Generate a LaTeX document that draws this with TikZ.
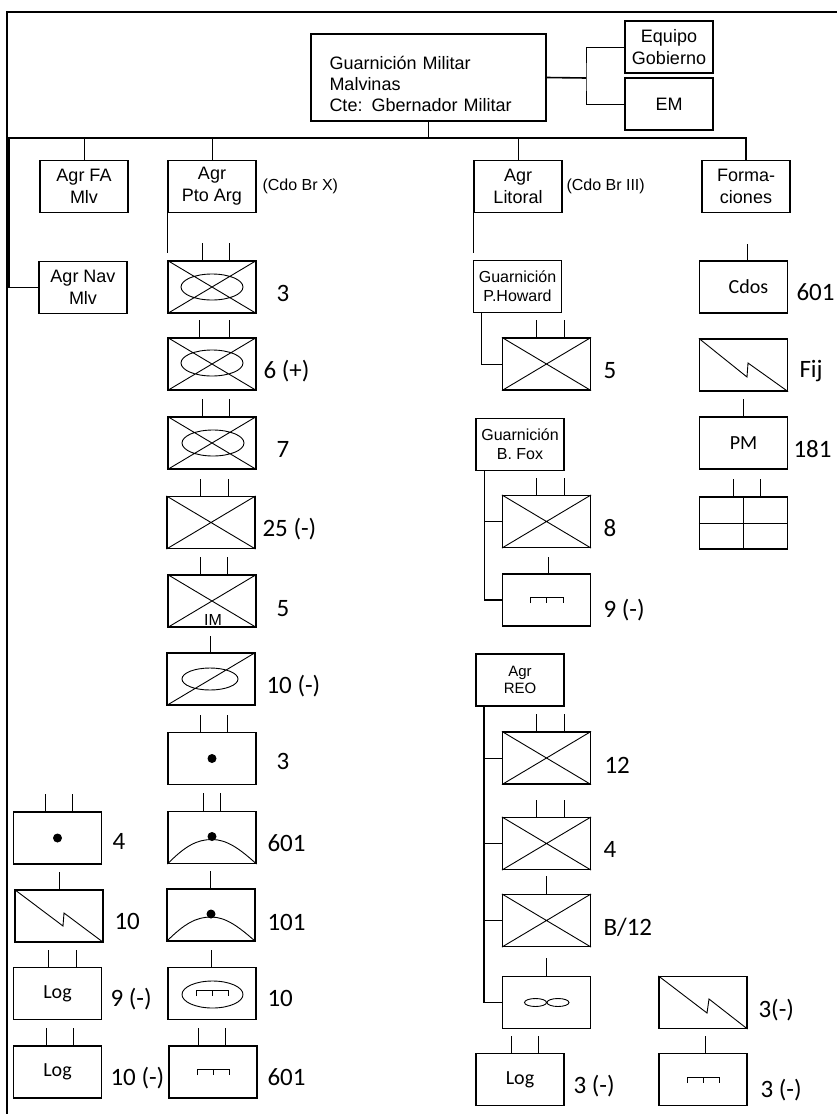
\documentclass[tikz,border=0pt]{standalone}
\usepackage{fontspec}
\setmainfont{Liberation Sans}
\newfontfamily\calibri{Carlito}

\begin{document}
\begin{tikzpicture}[x=1pt, y=-1pt, line width=1pt]
        \tikzstyle{ubox} = [rectangle, draw, line width=1.1pt, minimum width=88pt, minimum height=52pt, inner sep=0pt, align=center]
        \tikzstyle{hbox} = [ubox, font=\fontsize{18}{22}\selectfont]
        \tikzstyle{gbox} = [ubox, font=\fontsize{16}{19}\selectfont]
        \tikzstyle{ctext} = [font=\calibri\fontsize{20}{24}\selectfont]
        \tikzstyle{num} = [anchor=base west, inner sep=0pt, font=\calibri\fontsize{25}{30}\selectfont]
        \tikzstyle{sym} = [line width=0.9pt]
        \tikzstyle{link} = [line width=1.6pt]

        \useasboundingbox (0,0) rectangle (837,1114);
        % Frame
        \draw [line width=2pt] (7,1130) -- (7,12) -- (850,12);

        % Nodes
        \node (gm) [hbox, minimum width=235pt, minimum height=87pt, text width=198pt, align=left, font=\fontsize{18}{21}\selectfont] at (428.5,77.5) {\rule{0pt}{27pt}Guarnición Militar\\Malvinas\\Cte: Gbernador Militar};
        \node (eg) [hbox] at (669,47) {Equipo\\Gobierno};
        \node (em) [hbox] at (669,104) {EM};

        \node (fa) [hbox] at (84,186.5) {Agr FA\\Mlv};
        \node (nav) [hbox] at (83,287.5) {Agr Nav\\Mlv};
        \node (pa) [hbox] at (212,186.5) {Agr\\Pto Arg};
        \node (li) [hbox] at (518,186.5) {Agr\\Litoral};
        \node (fo) [hbox] at (746,186.5) {Forma-\\ciones};
        \node (cdox) [anchor=west, inner sep=0pt, font=\fontsize{16}{19}\selectfont] at (262,186) {(Cdo Br X)};
        \node (cdoiii) [anchor=west, inner sep=0pt, font=\fontsize{16}{19}\selectfont] at (566,186) {(Cdo Br III)};

        % Agr Pto Arg
        \node (pa1) [ubox] at (212,287) {};
        \node (pa2) [ubox] at (212,364) {};
        \node (pa3) [ubox] at (212,443) {};
        \node (pa4) [ubox] at (211,522.5) {};
        \node (pa5) [ubox] at (212,601) {};
        \node (im) [anchor=base, inner sep=0pt, font=\fontsize{16}{16}\selectfont] at (213,625) {IM};
        \node (pa6) [ubox] at (211,679) {};
        \node (pa7) [ubox] at (212,758.5) {};
        \node (pa8) [ubox] at (212,837.5) {};
        \node (pa9) [ubox] at (211,915) {};
        \node (pa10) [ubox] at (212,993.5) {};
        \node (pa11) [ubox] at (213,1072) {};

        \node (l1) [ubox] at (57.5,838) {};
        \node (l2) [ubox] at (59,916) {};
        \node (l3) [ubox, ctext] at (57.5,993.5) {Log};
        \node (l4) [ubox, ctext] at (57.5,1072) {Log};

        % Agr Litoral
        \node (ph) [gbox] at (517.5,286.5) {Guarnición\\P.Howard};
        \node (li5) [ubox] at (546.5,364) {};
        \node (bf) [gbox] at (520,444.5) {Guarnición\\B. Fox};
        \node (li8) [ubox] at (546.5,521.5) {};
        \node (li9) [ubox] at (546.5,600) {};
        \node (reo) [ubox, font=\fontsize{15}{17}\selectfont] at (520,680) {Agr\\REO};
        \node (r12) [ubox] at (546.5,758) {};
        \node (r4) [ubox] at (546.5,843.5) {};
        \node (rb12) [ubox] at (546.5,920.5) {};
        \node (rav) [ubox] at (546.5,1002.5) {};
        \node (rlog) [ubox, ctext] at (520,1079.5) {Log};
        \node (rr) [ubox] at (703,1002.5) {};
        \node (rm) [ubox] at (703,1079.5) {};

        % Formaciones
        \node (cdos) [ubox, ctext] at (743.5,287) {\hspace*{10pt}Cdos};
        \node (fij) [ubox] at (743.5,365) {};
        \node (pm) [ubox, ctext] at (743.5,443) {PM};
        \node (grid) [ubox] at (743.5,523) {};

        % Numbers
        \node (pa1n) [num] at (276,301) {3};
        \node (pa2n) [num] at (263,378) {6 (+)};
        \node (pa3n) [num] at (276,457) {7};
        \node (pa4n) [num] at (262,536) {25 (-)};
        \node (pa5n) [num] at (276,616) {5};
        \node (pa6n) [num] at (266,693) {10 (-)};
        \node (pa7n) [num] at (276,769) {3};
        \node (pa8n) [num] at (267,851) {601};
        \node (pa9n) [num] at (267,930) {101};
        \node (pa10n) [num] at (267,1006) {10};
        \node (pa11n) [num] at (267,1085) {601};
        \node (l1n) [num] at (112,849) {4};
        \node (l2n) [num] at (114,929) {10};
        \node (l3n) [num] at (110,1006) {9 (-)};
        \node (l4n) [num] at (110,1085) {10 (-)};
        \node (li5n) [num] at (603,378) {5};
        \node (li8n) [num] at (603,536) {8};
        \node (li9n) [num] at (603,617) {9 (-)};
        \node (r12n) [num] at (604,773) {12};
        \node (r4n) [num] at (603,857) {4};
        \node (rb12n) [num] at (603,935) {B/12};
        \node (rlogn) [num] at (573,1093) {3 (-)};
        \node (rrn) [num] at (758,1017) {3(-)};
        \node (rmn) [num] at (760,1097) {3 (-)};
        \node (cdosn) [num] at (796,300) {601};
        \node (fijn) [num] at (799,377) {Fij};
        \node (pmn) [num] at (793,457) {181};

        % Lines
        \coordinate (gj) at (586,78);
        \coordinate (bus) at (428.5,138);
        \coordinate (busl) at (9,138);
        \draw [link] (gm.east) -- (gj);
        \draw (eg.west) -| (gj) |- (em.west);
        \draw [link] (gm.south) -- (bus);
        \draw [link] (nav.west) -| (busl) -| (fo.north);
        \draw (fa.north) -- (fa.north |- bus);
        \draw (pa.north) -- (pa.north |- bus);
        \draw (li.north) -- (li.north |- bus);
        \draw (pa.south west) -- ++(0,40);
        \draw (li.south west) -- ++(0,40);
        \draw ([xshift=3.5pt]cdos.north) -- ++(0,-16);

        \coordinate (phl) at ([xshift=9pt]ph.south west);
        \draw (phl) |- (li5.west);
        \coordinate (bfl) at ([xshift=9pt]bf.south west);
        \draw [line width=1.3pt] (bfl) |- (li9.west);
        \draw (li8.west) -- (li8.west -| bfl);
        \coordinate (reol) at ([xshift=9pt]reo.south west);
        \draw [line width=2pt] (reol) -- (reol |- rav.west);
        \draw (r12.west) -- (r12.west -| reol);
        \draw (r4.west) -- (r4.west -| reol);
        \draw (rb12.west) -- (rb12.west -| reol);
        \draw (rav.west) -- (rav.west -| reol);

        % Echelon marks
        \draw ([xshift=-10pt]pa1.north) -- ++(0,-17) ([xshift=17pt]pa1.north) -- ++(0,-17);
        \draw ([xshift=-13pt]pa2.north) -- ++(0,-17) ([xshift=17pt]pa2.north) -- ++(0,-17);
        \draw ([xshift=-10pt]pa3.north) -- ++(0,-17) ([xshift=17pt]pa3.north) -- ++(0,-17);
        \draw ([xshift=-11pt]pa4.north) -- ++(0,-17) ([xshift=17pt]pa4.north) -- ++(0,-17);
        \draw ([xshift=-12pt]pa5.north) -- ++(0,-17) ([xshift=15pt]pa5.north) -- ++(0,-17);
        \draw ([xshift=-1pt]pa6.north) -- ++(0,-16);
        \draw ([xshift=-12pt]pa7.north) -- ++(0,-17) ([xshift=15pt]pa7.north) -- ++(0,-17);
        \draw ([xshift=-9pt]pa8.north) -- ++(0,-18) ([xshift=8pt]pa8.north) -- ++(0,-18);
        \draw ([xshift=-1pt]pa9.north) -- ++(0,-17);
        \draw ([xshift=-1pt]pa10.north) -- ++(0,-17);
        \draw ([xshift=-15pt]pa11.north) -- ++(0,-17) ([xshift=12pt]pa11.north) -- ++(0,-17);
        \draw ([xshift=-12.5pt]l1.north) -- ++(0,-17) ([xshift=14.5pt]l1.north) -- ++(0,-17);
        \draw (l2.north) -- ++(0,-17);
        \draw ([xshift=-9.5pt]l3.north) -- ++(0,-17) ([xshift=18.5pt]l3.north) -- ++(0,-17);
        \draw ([xshift=-11.5pt]l4.north) -- ++(0,-17) ([xshift=15.5pt]l4.north) -- ++(0,-17);
        \draw ([xshift=-10.5pt]li5.north) -- ++(0,-17) ([xshift=17.5pt]li5.north) -- ++(0,-17);
        \draw ([xshift=-10.5pt]li8.north) -- ++(0,-17) ([xshift=17.5pt]li8.north) -- ++(0,-17);
        \draw ([xshift=1.5pt]li9.north) -- ++(0,-16);
        \draw ([xshift=-10.5pt]r12.north) -- ++(0,-17) ([xshift=17.5pt]r12.north) -- ++(0,-17);
        \draw ([xshift=-10.5pt]r4.north) -- ++(0,-17) ([xshift=17.5pt]r4.north) -- ++(0,-17);
        \draw (rb12.north) -- ++(0,-18);
        \draw (rav.north) -- ++(0,-18);
        \draw ([xshift=-9pt]rlog.north) -- ++(0,-17) ([xshift=18pt]rlog.north) -- ++(0,-17);
        \draw ([xshift=2pt]rm.north) -- ++(0,-17);
        \draw (pm.north) -- ++(0,-17);
        \draw ([xshift=-10.5pt]grid.north) -- ++(0,-17) ([xshift=16.5pt]grid.north) -- ++(0,-17);

        % Symbols
        \draw [sym] (pa1.north west) -- (pa1.south east) (pa1.south west) -- (pa1.north east) (pa1.center) ellipse [x radius=31, y radius=13];
        \draw [sym] (pa2.north west) -- (pa2.south east) (pa2.south west) -- (pa2.north east) (212,363) ellipse [x radius=31, y radius=13];
        \draw [sym] (pa3.north west) -- (pa3.south east) (pa3.south west) -- (pa3.north east) (213,443) ellipse [x radius=31, y radius=13];
        \draw [sym] (pa4.north west) -- (pa4.south east) (pa4.south west) -- (pa4.north east);
        \draw [sym] (pa5.north west) -- (pa5.south east) (pa5.south west) -- (pa5.north east);
        \draw [sym] (pa6.south west) -- (pa6.north east) (210,679) ellipse [x radius=28, y radius=11];
        \fill (pa7.center) circle [radius=4.5];
        \draw [sym] (pa8.south west) .. controls (185,846) and (197,839.5) .. (212,839.5) .. controls (227,839.5) and (240,849) .. (pa8.south east);
        \fill (212,836.5) circle [radius=4.5];
        \draw [sym] (pa9.south west) .. controls (184,924) and (196,917) .. (211,917) .. controls (226,917) and (239,927) .. (pa9.south east);
        \fill (211,914) circle [radius=4.5];
        \draw [sym] (212.5,994.5) ellipse [x radius=30.5, y radius=13.5];
        \draw [sym] (196,996) |- (228,990) -- (228,996) (212,990) -- (212,996);
        \draw [sym] (197,1075) |- (229,1069) -- (229,1075) (213,1069) -- (213,1075);
        \fill (l1.center) circle [radius=4.5];
        \draw [sym] (l2.north west) -- (63,926) -- (64,913) -- (l2.south east);

        \draw [sym] (li5.north west) -- (li5.south east) (li5.south west) -- (li5.north east);
        \draw [sym] (li8.north west) -- (li8.south east) (li8.south west) -- (li8.north east);
        \draw [sym] (530,603) |- (563,597) -- (563,603) (546.5,597) -- (546.5,603);
        \draw [sym] (r12.north west) -- (r12.south east) (r12.south west) -- (r12.north east);
        \draw [sym] (r4.north west) -- (r4.south east) (r4.south west) -- (r4.north east);
        \draw [sym] (rb12.north west) -- (rb12.south east) (rb12.south west) -- (rb12.north east);
        \draw [sym] (535.5,1002.5) ellipse [x radius=11, y radius=4] (558,1002.5) ellipse [x radius=11, y radius=4];
        \draw [sym] (rr.north west) -- (707,1013) -- (709,999) -- (rr.south east);
        \draw [sym] (687,1083) |- (719,1077) -- (719,1083) (703,1077) -- (703,1083);

        \draw [sym] (fij.north west) -- (747,377) -- (748,363) -- (fij.south east);
        \draw [sym] (grid.north) -- (grid.south) (grid.west) -- (grid.east);
\end{tikzpicture}
\end{document}
